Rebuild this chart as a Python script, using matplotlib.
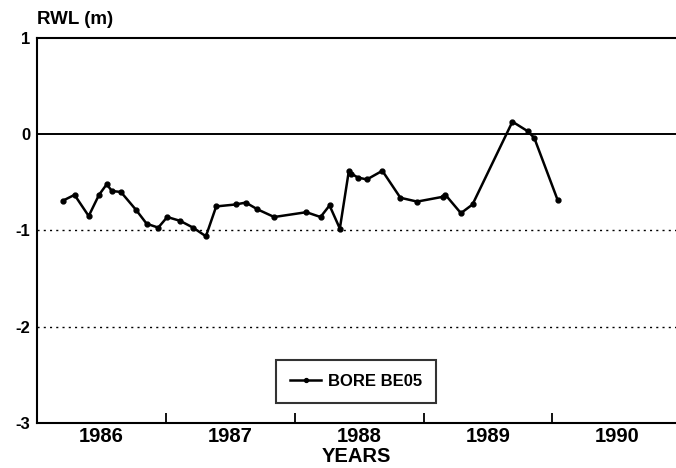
#!/usr/bin/env python3
"""Groundwater level (RWL) at bore BE05, 1986-1990."""

import matplotlib
matplotlib.use("Agg")
import matplotlib.pyplot as plt

# decimal year of each reading
years = [1986.20, 1986.29, 1986.40, 1986.48, 1986.54, 1986.58, 1986.65,
         1986.77, 1986.85, 1986.94, 1987.01, 1987.11, 1987.21, 1987.31,
         1987.39, 1987.54, 1987.62, 1987.71, 1987.84, 1988.09, 1988.20,
         1988.27, 1988.35, 1988.42, 1988.44, 1988.49, 1988.56, 1988.68,
         1988.82, 1988.95, 1989.15, 1989.17, 1989.29, 1989.38, 1989.69,
         1989.81, 1989.86, 1990.04]
rwl = [-0.69, -0.63, -0.85, -0.63, -0.52, -0.59, -0.60,
       -0.79, -0.93, -0.97, -0.86, -0.90, -0.97, -1.06,
       -0.75, -0.73, -0.71, -0.78, -0.86, -0.81, -0.86,
       -0.74, -0.98, -0.38, -0.41, -0.45, -0.47, -0.38,
       -0.66, -0.70, -0.65, -0.63, -0.82, -0.73, 0.13,
       0.03, -0.04, -0.68]

year_labels = ["1986", "1987", "1988", "1989", "1990"]
y_ticks = [1, 0, -1, -2, -3]
series_name = "BORE BE05"

plt.rcParams["font.family"] = ["Liberation Sans", "DejaVu Sans"]
plt.rcParams["font.weight"] = "bold"

fig = plt.figure(figsize=(6.76, 4.68), dpi=100)
ax = fig.add_axes([0.055, 0.096, 0.945, 0.823])

# reference lines
ax.axhline(0, color="black", lw=1.4, zorder=1)
for lvl in (-1, -2):
    ax.axhline(lvl, color="black", lw=1.0, ls=(0, (1.5, 3)), zorder=1)

ax.plot(years, rwl, color="black", lw=1.8, marker="o", ms=3.5,
        label=series_name, zorder=3)

ax.set_xlim(1986.0, 1990.96)
ax.set_ylim(-3, 1)

# year boundaries as inward ticks, labels centred on each year
ax.set_xticks([1987, 1988, 1989, 1990])
ax.set_xticklabels([])
ax.set_xticks([y + 0.5 for y in range(1986, 1991)], minor=True)
ax.set_xticklabels(year_labels, minor=True, fontsize=14.5, fontweight="bold")
ax.tick_params(axis="x", which="major", direction="in", length=7, width=1.3)
ax.tick_params(axis="x", which="minor", length=0, pad=3)

ax.set_yticks(y_ticks)
ax.set_yticklabels([str(v) for v in y_ticks], fontsize=12, fontweight="bold")
ax.tick_params(axis="y", length=0, pad=5)

ax.spines["right"].set_visible(False)
for side in ("left", "bottom", "top"):
    ax.spines[side].set_linewidth(1.5)

fig.text(0.527, 0.024, "YEARS", fontsize=14.5, fontweight="bold",
         ha="center", va="center")
fig.text(0.055, 0.94, "RWL (m)", fontsize=13.5, fontweight="bold",
         ha="left", va="bottom")

leg = ax.legend(loc="lower center", bbox_to_anchor=(0.499, 0.052),
                frameon=True, fancybox=False,
                prop={"weight": "bold", "size": 12},
                handlelength=1.9, handletextpad=0.4, borderpad=0.85,
                borderaxespad=0, markerscale=0.8)
leg.get_frame().set_edgecolor("black")
leg.get_frame().set_linewidth(1.5)

fig.savefig("out.png", dpi=100)
